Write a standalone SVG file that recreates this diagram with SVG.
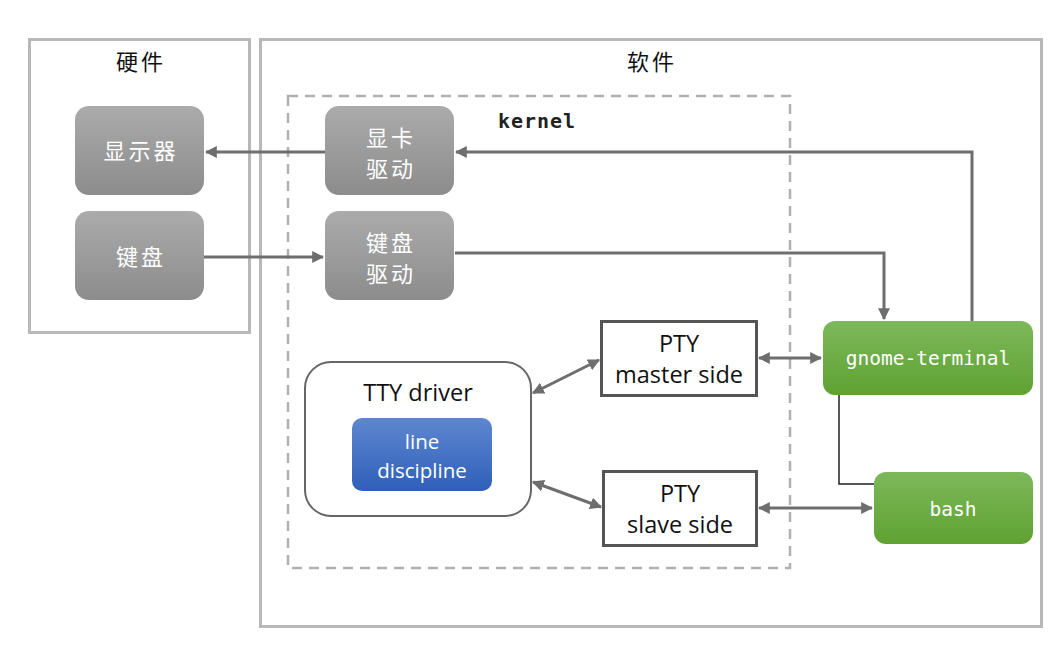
<svg xmlns="http://www.w3.org/2000/svg" width="1061" height="646" viewBox="0 0 1061 646">
<style>
.frame{fill:none;stroke:#b8b8b8;stroke-width:3}
.kernel{fill:none;stroke:#b0b0b0;stroke-width:2.5;stroke-dasharray:10 7}
.grey{fill:url(#gg)}
.green{fill:url(#gr)}
.cn{font-family:"Noto Sans CJK SC",sans-serif;font-size:22px;letter-spacing:3px;text-anchor:middle}
.wt{fill:#fff}
.en{font-family:"Open Sans","Noto Sans",sans-serif;font-size:23.5px;text-anchor:middle;fill:#111}
.ld{font-family:"Open Sans","Noto Sans",sans-serif;font-size:20.5px;text-anchor:middle;fill:#fff}
.mono{font-family:"DejaVu Sans Mono","Liberation Mono",monospace;font-size:19.5px;text-anchor:middle}
.conn{fill:none;stroke:#6e6e6e;stroke-width:3}
.box{fill:#fff;stroke:#555;stroke-width:3}
</style>
<defs>
<linearGradient id="gg" x1="0" y1="0" x2="0" y2="1"><stop offset="0" stop-color="#ababab"/><stop offset="1" stop-color="#8c8c8c"/></linearGradient>
<linearGradient id="gr" x1="0" y1="0" x2="0" y2="1"><stop offset="0" stop-color="#7db85a"/><stop offset="1" stop-color="#5fa232"/></linearGradient>
<linearGradient id="bl" x1="0" y1="0" x2="0" y2="1"><stop offset="0" stop-color="#5f87d0"/><stop offset="1" stop-color="#2e5fb8"/></linearGradient>
<marker id="ah" viewBox="0 0 10 10" refX="9" refY="5" markerWidth="4" markerHeight="4" orient="auto-start-reverse" markerUnits="strokeWidth"><path d="M0,0 L10,5 L0,10 z" fill="#6e6e6e"/></marker>
</defs>
<rect width="1061" height="646" fill="#fff"/>

<g id="hardware">
<rect class="frame" x="29.5" y="39.5" width="220" height="293"/>
<text class="cn" x="141" y="70" fill="#111">硬件</text>
</g>
<g id="software">
<rect class="frame" x="260.5" y="39.5" width="781" height="587"/>
<text class="cn" x="652" y="70" fill="#111">软件</text>
</g>
<g id="kernel">
<rect class="kernel" x="288" y="96" width="502" height="472"/>
<text x="537" y="128" font-family="DejaVu Sans Mono,monospace" font-size="20" letter-spacing="1" font-weight="bold" text-anchor="middle" fill="#222">kernel</text>
</g>

<g id="connectors">
<line class="conn" x1="325" y1="152" x2="206" y2="152" marker-end="url(#ah)"/>
<line class="conn" x1="204" y1="257" x2="323" y2="257" marker-end="url(#ah)"/>
<polyline class="conn" points="972,321 972,152 456,152" marker-end="url(#ah)"/>
<polyline class="conn" points="455,253 884,253 884,319" marker-end="url(#ah)"/>
<line class="conn" x1="759" y1="358" x2="821" y2="358" marker-start="url(#ah)" marker-end="url(#ah)"/>
<line class="conn" x1="759" y1="508" x2="872" y2="508" marker-start="url(#ah)" marker-end="url(#ah)"/>
<line class="conn" x1="533" y1="393" x2="599" y2="360" marker-start="url(#ah)" marker-end="url(#ah)"/>
<line class="conn" x1="533" y1="482" x2="601" y2="507" marker-start="url(#ah)" marker-end="url(#ah)"/>
<polyline points="839,395 839,484 874,484" fill="none" stroke="#222" stroke-width="1.5"/>
</g>

<g id="display">
<rect class="grey" x="75" y="106" width="129" height="89" rx="14"/>
<text class="cn wt" x="141" y="159">显示器</text>
</g>
<g id="keyboard">
<rect class="grey" x="75" y="211" width="129" height="89" rx="14"/>
<text class="cn wt" x="141" y="265">键盘</text>
</g>
<g id="gpu-driver">
<rect class="grey" x="325" y="106" width="129" height="89" rx="14"/>
<text class="cn wt" x="391" y="146">显卡</text>
<text class="cn wt" x="391" y="177">驱动</text>
</g>
<g id="kbd-driver">
<rect class="grey" x="325" y="211" width="129" height="89" rx="14"/>
<text class="cn wt" x="391" y="251">键盘</text>
<text class="cn wt" x="391" y="282">驱动</text>
</g>

<g id="tty-driver">
<rect x="305" y="362" width="226" height="154" rx="26" fill="#fff" stroke="#666" stroke-width="2"/>
<text class="en" x="418" y="401">TTY driver</text>
</g>
<g id="line-discipline">
<rect x="352" y="418" width="140" height="73" rx="10" fill="url(#bl)"/>
<text class="ld" x="422" y="449">line</text>
<text class="ld" x="422" y="477.5">discipline</text>
</g>
<g id="pty-master">
<rect class="box" x="601.5" y="321.5" width="155" height="74"/>
<text class="en" x="679" y="352">PTY</text>
<text class="en" x="679" y="383">master side</text>
</g>
<g id="pty-slave">
<rect class="box" x="603.5" y="471.5" width="153" height="74"/>
<text class="en" x="680" y="502">PTY</text>
<text class="en" x="680" y="533">slave side</text>
</g>
<g id="gnome-terminal">
<rect class="green" x="823" y="321" width="210" height="74" rx="12"/>
<text class="mono wt" x="928" y="365">gnome-terminal</text>
</g>
<g id="bash">
<rect class="green" x="874" y="472" width="159" height="72" rx="12"/>
<text class="mono wt" x="953" y="516">bash</text>
</g>
</svg>
